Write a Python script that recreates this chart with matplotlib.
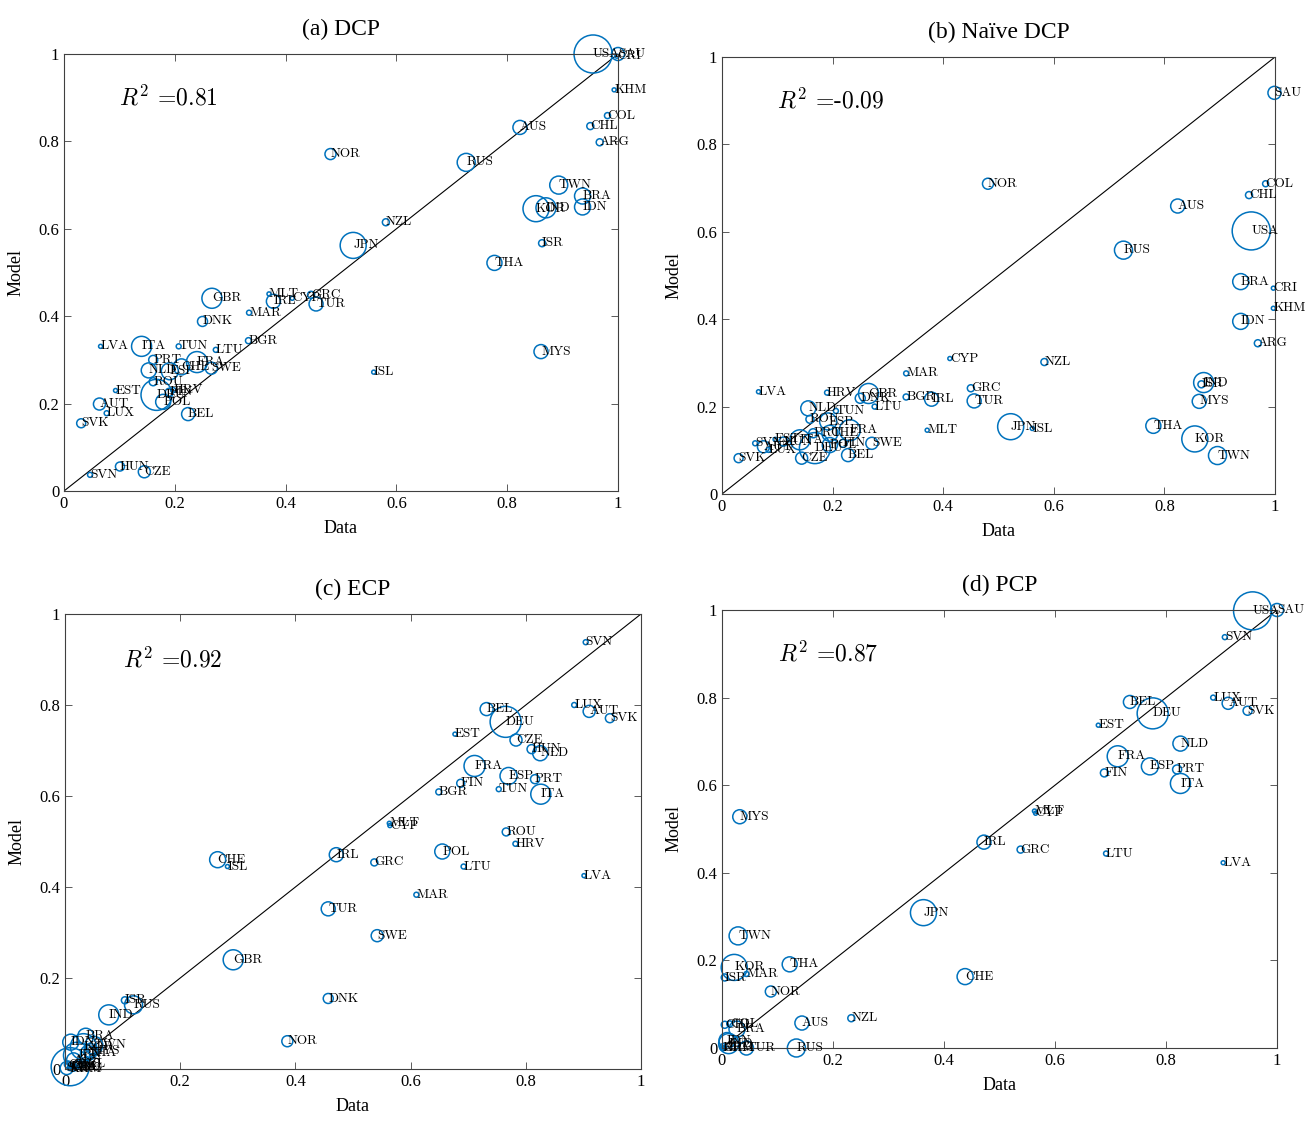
import matplotlib.pyplot as plt

plt.rcParams['font.family'] = ['Liberation Serif', 'DejaVu Serif']
plt.rcParams['mathtext.fontset'] = 'cm'

# bubble weight per country (relative, USA = 100)
countries = ['USA', 'DEU', 'JPN', 'KOR', 'IND', 'GBR', 'FRA', 'ITA', 'TWN', 'RUS',
             'BRA', 'IDN', 'ESP', 'NLD', 'CHE', 'AUS', 'THA', 'MYS', 'SAU', 'TUR',
             'POL', 'SWE', 'BEL', 'AUT', 'NOR', 'IRL', 'DNK', 'CZE', 'PRT', 'GRC',
             'FIN', 'ROU', 'NZL', 'CHL', 'COL', 'ARG', 'ISR', 'HUN', 'SVK', 'BGR',
             'HRV', 'LTU', 'SVN', 'LVA', 'EST', 'LUX', 'MLT', 'CYP', 'ISL', 'MAR',
             'TUN', 'KHM', 'CRI']
weights = [100, 66.5, 46.8, 46.8, 27.7, 27.7, 30.5, 27.7, 22.4, 22.4,
           17.7, 17.7, 20.0, 15.6, 17.7, 13.6, 15.6, 13.6, 11.7, 13.6,
           15.6, 10.0, 11.7, 10.0, 8.4, 13.6, 6.9, 10.0, 5.6, 3.4,
           4.4, 4.4, 3.4, 3.4, 2.5, 3.4, 3.4, 5.6, 5.6, 2.5,
           1.7, 1.7, 1.7, 1.1, 1.1, 1.7, 1.1, 1.1, 1.1, 1.7,
           1.7, 1.1, 1.1]

# (a) DCP
dcp_codes = ['USA', 'SAU', 'CRI', 'KHM', 'COL', 'CHL', 'ARG', 'AUS', 'NOR', 'RUS',
             'TWN', 'BRA', 'IDN', 'KOR', 'IND', 'NZL', 'JPN', 'ISR', 'THA', 'GBR',
             'MLT', 'IRL', 'CYP', 'GRC', 'TUR', 'MAR', 'DNK', 'LVA', 'ITA', 'TUN',
             'LTU', 'BGR', 'MYS', 'ISL', 'FRA', 'PRT', 'SWE', 'NLD', 'ESP', 'CHE',
             'ROU', 'DEU', 'HRV', 'FIN', 'POL', 'BEL', 'EST', 'AUT', 'LUX', 'SVK',
             'HUN', 'SVN', 'CZE']
dcp_data = [0.955, 1.000, 0.998, 0.993, 0.981, 0.950, 0.967, 0.823, 0.481, 0.726,
            0.893, 0.936, 0.936, 0.852, 0.870, 0.581, 0.522, 0.863, 0.777, 0.267,
            0.370, 0.378, 0.412, 0.446, 0.455, 0.334, 0.250, 0.066, 0.140, 0.207,
            0.274, 0.333, 0.861, 0.559, 0.240, 0.161, 0.266, 0.153, 0.191, 0.212,
            0.161, 0.167, 0.197, 0.190, 0.179, 0.224, 0.093, 0.064, 0.077, 0.031,
            0.101, 0.047, 0.145]
dcp_model = [1.000, 1.000, 0.995, 0.918, 0.859, 0.835, 0.798, 0.832, 0.771, 0.752,
             0.700, 0.675, 0.650, 0.646, 0.648, 0.615, 0.562, 0.567, 0.522, 0.441,
             0.451, 0.434, 0.441, 0.449, 0.428, 0.408, 0.388, 0.331, 0.331, 0.331,
             0.323, 0.344, 0.319, 0.272, 0.295, 0.300, 0.281, 0.276, 0.274, 0.284,
             0.250, 0.220, 0.231, 0.226, 0.204, 0.176, 0.230, 0.199, 0.178, 0.155,
             0.056, 0.037, 0.044]

# (b) Naive DCP
naive_codes = ['SAU', 'NOR', 'COL', 'CHL', 'AUS', 'USA', 'RUS', 'BRA', 'CRI', 'KHM',
               'IDN', 'ARG', 'CYP', 'NZL', 'MAR', 'LVA', 'HRV', 'GRC', 'ISR', 'IND',
               'GBR', 'DNK', 'BGR', 'IRL', 'TUR', 'LTU', 'MYS', 'NLD', 'TUN', 'MLT',
               'JPN', 'ISL', 'THA', 'KOR', 'TWN', 'ROU', 'ESP', 'ITA', 'PRT', 'CHE',
               'FRA', 'DEU', 'FIN', 'POL', 'SWE', 'BEL', 'CZE', 'EST', 'HUN', 'SVN',
               'AUT', 'LUX', 'SVK']
naive_data = [0.999, 0.481, 0.983, 0.953, 0.824, 0.957, 0.726, 0.938, 0.997, 0.997,
              0.938, 0.969, 0.412, 0.583, 0.333, 0.066, 0.190, 0.450, 0.867, 0.871,
              0.265, 0.250, 0.333, 0.379, 0.456, 0.276, 0.863, 0.156, 0.206, 0.371,
              0.522, 0.561, 0.780, 0.855, 0.896, 0.159, 0.192, 0.141, 0.165, 0.195,
              0.231, 0.168, 0.219, 0.195, 0.271, 0.228, 0.144, 0.096, 0.111, 0.060,
              0.075, 0.084, 0.030]
naive_model = [0.918, 0.710, 0.710, 0.684, 0.659, 0.602, 0.558, 0.486, 0.471, 0.425,
               0.395, 0.345, 0.310, 0.302, 0.276, 0.234, 0.232, 0.242, 0.251, 0.255,
               0.230, 0.219, 0.222, 0.217, 0.213, 0.200, 0.212, 0.196, 0.190, 0.146,
               0.154, 0.150, 0.156, 0.126, 0.088, 0.171, 0.166, 0.124, 0.139, 0.139,
               0.146, 0.105, 0.116, 0.112, 0.116, 0.089, 0.082, 0.125, 0.120, 0.116,
               0.108, 0.101, 0.082]

# (c) ECP
ecp_codes = ['SVN', 'LUX', 'AUT', 'SVK', 'BEL', 'DEU', 'EST', 'CZE', 'HUN', 'NLD',
             'FRA', 'ESP', 'PRT', 'FIN', 'TUN', 'BGR', 'ITA', 'MLT', 'CYP', 'ROU',
             'HRV', 'CHE', 'ISL', 'IRL', 'GRC', 'POL', 'LTU', 'LVA', 'MAR', 'TUR',
             'SWE', 'GBR', 'DNK', 'NOR', 'ISR', 'RUS', 'IND', 'BRA', 'IDN', 'TWN',
             'KOR', 'JPN', 'THA', 'MYS', 'AUS', 'NZL', 'CHL', 'COL', 'ARG', 'SAU',
             'KHM', 'CRI', 'USA']
ecp_data = [0.904, 0.884, 0.910, 0.946, 0.732, 0.765, 0.677, 0.783, 0.810, 0.825,
            0.711, 0.770, 0.816, 0.687, 0.753, 0.649, 0.826, 0.563, 0.564, 0.766,
            0.782, 0.265, 0.282, 0.471, 0.537, 0.655, 0.692, 0.901, 0.610, 0.457,
            0.542, 0.292, 0.457, 0.386, 0.104, 0.119, 0.076, 0.036, 0.010, 0.050,
            0.032, 0.020, 0.040, 0.045, 0.015, 0.025, 0.005, 0.010, 0.015, 0.003,
            0.008, 0.012, 0.009]
ecp_model = [0.938, 0.800, 0.786, 0.771, 0.791, 0.763, 0.736, 0.723, 0.703, 0.694,
             0.666, 0.644, 0.637, 0.628, 0.615, 0.609, 0.604, 0.540, 0.535, 0.521,
             0.495, 0.460, 0.445, 0.471, 0.454, 0.478, 0.445, 0.425, 0.383, 0.352,
             0.293, 0.240, 0.155, 0.061, 0.151, 0.141, 0.119, 0.072, 0.059, 0.052,
             0.049, 0.030, 0.035, 0.040, 0.020, 0.012, 0.010, 0.005, 0.003, 0.002,
             0.001, 0.004, 0.005]

# (d) PCP
pcp_codes = ['USA', 'SAU', 'SVN', 'LUX', 'AUT', 'SVK', 'BEL', 'DEU', 'EST', 'NLD',
             'FRA', 'ESP', 'PRT', 'FIN', 'ITA', 'MYS', 'MLT', 'CYP', 'IRL', 'GRC',
             'LTU', 'LVA', 'JPN', 'TWN', 'THA', 'KOR', 'ISR', 'MAR', 'CHE', 'NOR',
             'NZL', 'AUS', 'CHL', 'COL', 'BRA', 'IDN', 'IND', 'ARG', 'KHM', 'CRI',
             'TUR', 'RUS']
pcp_data = [0.956, 1.000, 0.906, 0.885, 0.912, 0.947, 0.735, 0.776, 0.678, 0.826,
            0.713, 0.771, 0.820, 0.689, 0.826, 0.032, 0.563, 0.565, 0.472, 0.538,
            0.692, 0.903, 0.363, 0.029, 0.122, 0.022, 0.005, 0.044, 0.438, 0.088,
            0.233, 0.144, 0.005, 0.014, 0.027, 0.009, 0.012, 0.002, 0.001, 0.003,
            0.044, 0.134]
pcp_model = [0.998, 1.000, 0.938, 0.800, 0.787, 0.770, 0.790, 0.764, 0.737, 0.695,
             0.666, 0.643, 0.636, 0.628, 0.604, 0.528, 0.541, 0.536, 0.470, 0.453,
             0.444, 0.423, 0.309, 0.256, 0.191, 0.184, 0.161, 0.169, 0.163, 0.129,
             0.068, 0.057, 0.053, 0.055, 0.043, 0.017, 0.010, 0.002, 0.000, 0.001,
             0.000, 0.000]

titles = ['(a) DCP', '(b) Naïve DCP', '(c) ECP', '(d) PCP']
r2_values = ['0.81', '-0.09', '0.92', '0.87']

ticks = [0, 0.2, 0.4, 0.6, 0.8, 1]
blue = '#0072BD'
weight_of = dict(zip(countries, weights))


def draw_panel(ax, codes, xs, ys, title, r2):
    ax.plot([0, 1], [0, 1], color='black', lw=0.8, zorder=1)
    sizes = [weight_of[c] * 7.5 for c in codes]
    ax.scatter(xs, ys, s=sizes, facecolors='none', edgecolors=blue,
               linewidths=1.1, clip_on=False, zorder=2)
    for c, x, y in zip(codes, xs, ys):
        ax.text(x, y, c, fontsize=9.5, family='cmr10', ha='left', va='center',
                clip_on=False, zorder=3)
    ax.text(0.1, 0.9, r'$R^2$ =' + r2, fontsize=17, family='cmr10',
            transform=ax.transData, va='center')
    ax.set_xlim(0, 1)
    ax.set_ylim(0, 1)
    ax.set_xticks(ticks)
    ax.set_yticks(ticks)
    ax.set_xticklabels([f'{t:g}' for t in ticks])
    ax.set_yticklabels([f'{t:g}' for t in ticks])
    ax.tick_params(direction='in', top=True, right=True, length=5,
                   labelsize=12, color='#404040', width=0.6)
    for sp in ax.spines.values():
        sp.set_color('#404040')
        sp.set_linewidth(0.8)
    ax.set_xlabel('Data', fontsize=13, labelpad=6)
    ax.set_ylabel('Model', fontsize=13, labelpad=10)
    ax.set_title(title, fontsize=17, pad=14)


fig = plt.figure(figsize=(13.1, 11.24), dpi=100)
ax_a = fig.add_axes([64 / 1310, 1 - 491 / 1124, 554 / 1310, 437 / 1124])
ax_b = fig.add_axes([722 / 1310, 1 - 494 / 1124, 553 / 1310, 437 / 1124])
ax_c = fig.add_axes([65 / 1310, 1 - 1069 / 1124, 576 / 1310, 455 / 1124])
ax_d = fig.add_axes([722 / 1310, 1 - 1048 / 1124, 555 / 1310, 438 / 1124])

draw_panel(ax_a, dcp_codes, dcp_data, dcp_model, titles[0], r2_values[0])
draw_panel(ax_b, naive_codes, naive_data, naive_model, titles[1], r2_values[1])
draw_panel(ax_c, ecp_codes, ecp_data, ecp_model, titles[2], r2_values[2])
draw_panel(ax_d, pcp_codes, pcp_data, pcp_model, titles[3], r2_values[3])

fig.savefig('out.png', dpi=100)
